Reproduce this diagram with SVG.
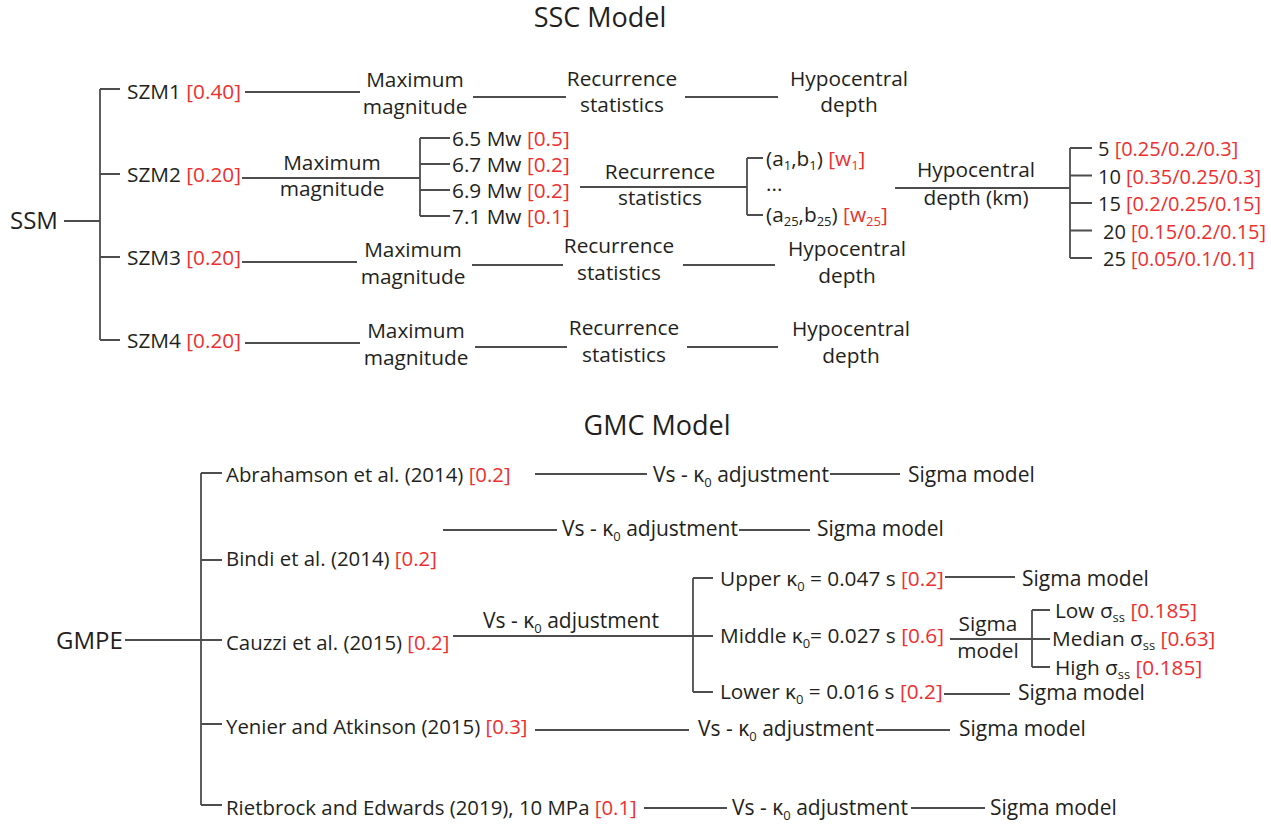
<svg xmlns="http://www.w3.org/2000/svg" width="1271" height="826" viewBox="0 0 1271 826">
<style>
text{font-family:"Open Sans","Liberation Sans",sans-serif;font-size:20.8px;fill:#231f20}
.r{fill:#ed2f2f}
.c{text-anchor:middle}
.big{font-size:24px}
.ttl{font-size:27px}
.cit{font-size:20.4px}
.w{font-size:20px}
.v{font-size:21px}
.sb{font-size:13px}
.ln{stroke:#4d4d4d;stroke-width:1.8;fill:none}
</style>
<rect width="1271" height="826" fill="#ffffff"/>

<!-- ===== SSC ===== -->
<text id="title-ssc" class="ttl c" x="600" y="27">SSC Model</text>

<g id="connectors" class="ln">
  <!-- SSM tree -->
  <path d="M64 221H100M100 89V340M100 89H120M100 174H120M100 257H120M100 340H120"/>
  <!-- SZM1 row -->
  <path d="M245 92H360M473 97H566M685 97H778"/>
  <!-- SZM2 row -->
  <path d="M242 178H420M420 138V216M420 138H450M420 164H450M420 190H450M420 216H450"/>
  <path d="M580 187H747M747 158V215M747 158H763M747 215H763"/>
  <path d="M895 188H1070M1070 148V258M1070 148H1092M1070 175.5H1092M1070 203H1092M1070 230.5H1092M1070 258H1092"/>
  <!-- SZM3 row -->
  <path d="M242 262H357M472 265H563M683 265H775"/>
  <!-- SZM4 row -->
  <path d="M245 343H360M475 347H567M687 347H778"/>

  <!-- GMC tree -->
  <path d="M125 640H222M201 473V805M201 473H222M201 560H222M201 724H222M201 805H222"/>
  <path d="M535 474H647M830 474H900"/>
  <path d="M443 530H557M739 530H810"/>
  <path d="M453 636H713M693 578V692M693 578H713M693 692H713"/>
  <path d="M945 577H1015"/>
  <path d="M950 639H1050M1032 610V667M1032 610H1050M1032 667H1050"/>
  <path d="M944 694H1010"/>
  <path d="M535 730H689M876 730H950"/>
  <path d="M644 808H727M911 808H985"/>
</g>

<g id="ssm"><text class="big" x="10" y="229">SSM</text></g>

<g id="szm1">
  <text x="127" y="99">SZM1 <tspan class="r">[0.40]</tspan></text>
</g>
<g id="szm1-maxmag"><text class="c" x="415" y="87">Maximum</text><text class="c" x="415" y="114">magnitude</text></g>
<g id="szm1-rec"><text class="c" x="622" y="86">Recurrence</text><text class="c" x="622" y="112">statistics</text></g>
<g id="szm1-hypo"><text class="c" x="849" y="86">Hypocentral</text><text class="c" x="849" y="112">depth</text></g>

<g id="szm2">
  <text x="127" y="182">SZM2 <tspan class="r">[0.20]</tspan></text>
</g>
<g id="szm2-maxmag"><text class="c" x="332" y="170">Maximum</text><text class="c" x="332" y="196">magnitude</text></g>
<g id="mw65"><text x="452" y="146">6.5 Mw <tspan class="r">[0.5]</tspan></text></g>
<g id="mw67"><text x="452" y="172">6.7 Mw <tspan class="r">[0.2]</tspan></text></g>
<g id="mw69"><text x="452" y="198">6.9 Mw <tspan class="r">[0.2]</tspan></text></g>
<g id="mw71"><text x="452" y="224">7.1 Mw <tspan class="r">[0.1]</tspan></text></g>
<g id="szm2-rec"><text class="c" x="660" y="179">Recurrence</text><text class="c" x="660" y="205">statistics</text></g>
<g id="ab1"><text x="766" y="166">(a<tspan class="sb" dy="4">1</tspan><tspan dy="-4">,b</tspan><tspan class="sb" dy="4">1</tspan><tspan dy="-4">) </tspan><tspan class="r">[w</tspan><tspan class="r sb" dy="4">1</tspan><tspan class="r" dy="-4">]</tspan></text></g>
<g id="abdots"><text x="766" y="191">...</text></g>
<g id="ab25"><text x="766" y="222">(a<tspan class="sb" dy="4">25</tspan><tspan dy="-4">,b</tspan><tspan class="sb" dy="4">25</tspan><tspan dy="-4">) </tspan><tspan class="r">[w</tspan><tspan class="r sb" dy="4">25</tspan><tspan class="r" dy="-4">]</tspan></text></g>
<g id="szm2-hypo"><text class="c" x="976" y="177">Hypocentral</text><text class="c" x="976" y="205">depth (km)</text></g>
<g id="d5"><text class="w" x="1098" y="156">5 <tspan class="r">[0.25/0.2/0.3]</tspan></text></g>
<g id="d10"><text class="w" x="1098" y="183.5">10 <tspan class="r">[0.35/0.25/0.3]</tspan></text></g>
<g id="d15"><text class="w" x="1098" y="211">15 <tspan class="r">[0.2/0.25/0.15]</tspan></text></g>
<g id="d20"><text class="w" x="1103" y="238.5">20 <tspan class="r">[0.15/0.2/0.15]</tspan></text></g>
<g id="d25"><text class="w" x="1103" y="266">25 <tspan class="r">[0.05/0.1/0.1]</tspan></text></g>

<g id="szm3">
  <text x="127" y="265">SZM3 <tspan class="r">[0.20]</tspan></text>
</g>
<g id="szm3-maxmag"><text class="c" x="413" y="257">Maximum</text><text class="c" x="413" y="284">magnitude</text></g>
<g id="szm3-rec"><text class="c" x="619" y="253">Recurrence</text><text class="c" x="619" y="280">statistics</text></g>
<g id="szm3-hypo"><text class="c" x="847" y="256">Hypocentral</text><text class="c" x="847" y="283">depth</text></g>

<g id="szm4">
  <text x="127" y="348">SZM4 <tspan class="r">[0.20]</tspan></text>
</g>
<g id="szm4-maxmag"><text class="c" x="416" y="338">Maximum</text><text class="c" x="416" y="365">magnitude</text></g>
<g id="szm4-rec"><text class="c" x="624" y="335">Recurrence</text><text class="c" x="624" y="362">statistics</text></g>
<g id="szm4-hypo"><text class="c" x="851" y="336">Hypocentral</text><text class="c" x="851" y="363">depth</text></g>

<!-- ===== GMC ===== -->
<text id="title-gmc" class="ttl c" x="657" y="435">GMC Model</text>

<g id="gmpe"><text class="big" x="56" y="649">GMPE</text></g>

<g id="abrahamson"><text class="cit" x="226" y="482">Abrahamson et al. (2014) <tspan class="r">[0.2]</tspan></text></g>
<g id="abr-vs"><text class="v" x="653" y="482">Vs - κ<tspan class="sb" dy="5">0</tspan><tspan dy="-5"> adjustment</tspan></text></g>
<g id="abr-sigma"><text class="v" x="908" y="482">Sigma model</text></g>

<g id="row2-vs"><text class="v" x="562" y="536">Vs - κ<tspan class="sb" dy="5">0</tspan><tspan dy="-5"> adjustment</tspan></text></g>
<g id="row2-sigma"><text class="v" x="817" y="536">Sigma model</text></g>

<g id="bindi"><text class="cit" x="226" y="566">Bindi et al. (2014) <tspan class="r">[0.2]</tspan></text></g>

<g id="cauzzi"><text class="cit" x="226" y="650">Cauzzi et al. (2015) <tspan class="r">[0.2]</tspan></text></g>
<g id="cau-vs"><text class="v c" x="571" y="628">Vs - κ<tspan class="sb" dy="5">0</tspan><tspan dy="-5"> adjustment</tspan></text></g>

<g id="upper"><text x="720" y="586">Upper κ<tspan class="sb" dy="5">0</tspan><tspan dy="-5"> = 0.047 s </tspan><tspan class="r">[0.2]</tspan></text></g>
<g id="upper-sigma"><text class="v" x="1022" y="586">Sigma model</text></g>
<g id="middle"><text x="720" y="643">Middle κ<tspan class="sb" dy="5">0</tspan><tspan dy="-5">= 0.027 s </tspan><tspan class="r">[0.6]</tspan></text></g>
<g id="middle-sigma"><text class="c" x="988" y="631">Sigma</text><text class="c" x="988" y="658">model</text></g>
<g id="low"><text x="1055" y="618">Low σ<tspan class="sb" dy="4">ss</tspan><tspan dy="-4"> </tspan><tspan class="r">[0.185]</tspan></text></g>
<g id="median"><text x="1052" y="646">Median σ<tspan class="sb" dy="4">ss</tspan><tspan dy="-4"> </tspan><tspan class="r">[0.63]</tspan></text></g>
<g id="high"><text x="1055" y="675">High σ<tspan class="sb" dy="4">ss</tspan><tspan dy="-4"> </tspan><tspan class="r">[0.185]</tspan></text></g>
<g id="lower"><text x="720" y="699">Lower κ<tspan class="sb" dy="5">0</tspan><tspan dy="-5"> = 0.016 s </tspan><tspan class="r">[0.2]</tspan></text></g>
<g id="lower-sigma"><text class="v" x="1018" y="700">Sigma model</text></g>

<g id="yenier"><text class="cit" x="226" y="734">Yenier and Atkinson (2015) <tspan class="r">[0.3]</tspan></text></g>
<g id="yen-vs"><text class="v" x="698" y="736">Vs - κ<tspan class="sb" dy="5">0</tspan><tspan dy="-5"> adjustment</tspan></text></g>
<g id="yen-sigma"><text class="v" x="959" y="736">Sigma model</text></g>

<g id="rietbrock"><text class="cit" x="226" y="815">Rietbrock and Edwards (2019), 10 MPa <tspan class="r">[0.1]</tspan></text></g>
<g id="rie-vs"><text class="v" x="732" y="815">Vs - κ<tspan class="sb" dy="5">0</tspan><tspan dy="-5"> adjustment</tspan></text></g>
<g id="rie-sigma"><text class="v" x="990" y="815">Sigma model</text></g>
</svg>
